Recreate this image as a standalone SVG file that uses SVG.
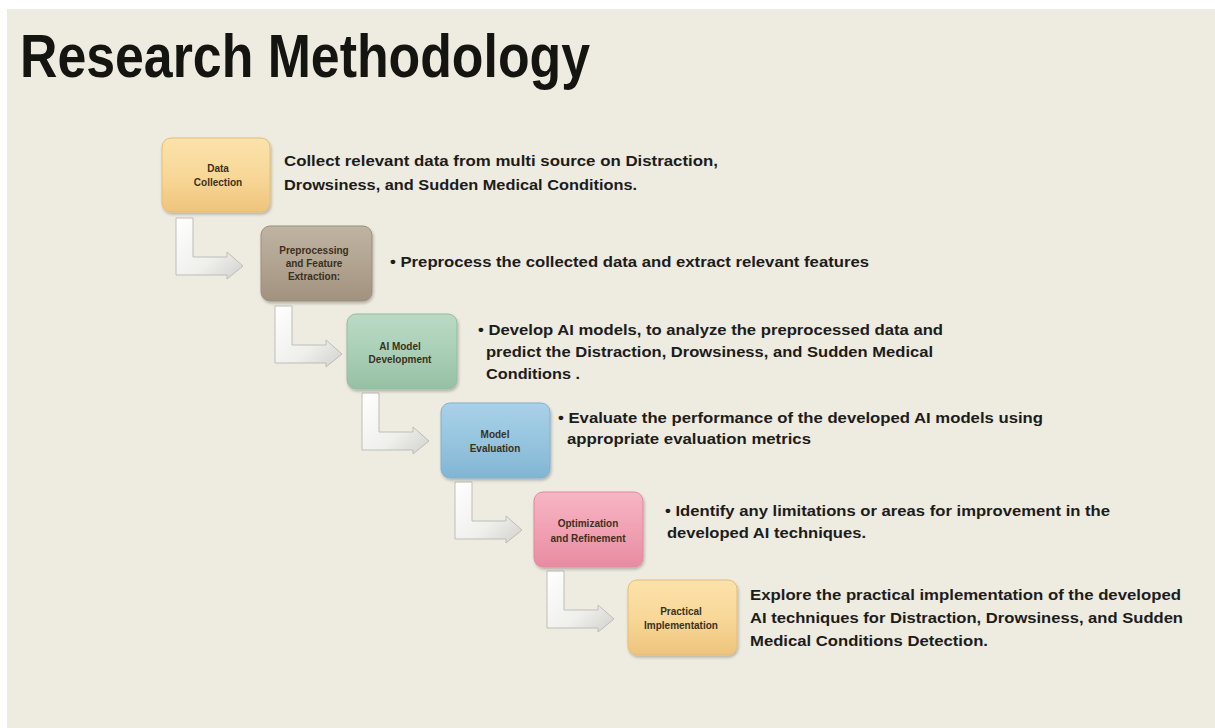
<svg xmlns="http://www.w3.org/2000/svg" width="1215" height="728" viewBox="0 0 1215 728">
  <defs>
    <style>
      .title { font-family: "Liberation Sans", Arial, sans-serif; font-size: 61px; font-weight: bold; fill: #141410; }
      .body { font-family: "Liberation Sans", Arial, sans-serif; font-size: 15.5px; fill: #1c1c1a; font-weight: bold; }
      .lbl { font-family: "Liberation Sans", Arial, sans-serif; font-size: 10px; fill: #3a3020; text-anchor: middle; font-weight: bold; }
      .box { stroke-width: 1; }
      .arrow { fill: url(#gArrow); stroke: #bdbdb8; stroke-width: 1; }
    </style>
    <linearGradient id="gY" x1="0" y1="0" x2="0" y2="1">
      <stop offset="0" stop-color="#fbe2ab"/>
      <stop offset="0.5" stop-color="#f8d898"/>
      <stop offset="1" stop-color="#eec47c"/>
    </linearGradient>
    <linearGradient id="gT" x1="0" y1="0" x2="0" y2="1">
      <stop offset="0" stop-color="#bfb3a2"/>
      <stop offset="0.5" stop-color="#b2a491"/>
      <stop offset="1" stop-color="#a19280"/>
    </linearGradient>
    <linearGradient id="gG" x1="0" y1="0" x2="0" y2="1">
      <stop offset="0" stop-color="#badac5"/>
      <stop offset="0.5" stop-color="#aacfb7"/>
      <stop offset="1" stop-color="#96c0a4"/>
    </linearGradient>
    <linearGradient id="gB" x1="0" y1="0" x2="0" y2="1">
      <stop offset="0" stop-color="#a9d1e8"/>
      <stop offset="0.5" stop-color="#96c5df"/>
      <stop offset="1" stop-color="#82b5d3"/>
    </linearGradient>
    <linearGradient id="gP" x1="0" y1="0" x2="0" y2="1">
      <stop offset="0" stop-color="#f6b6c4"/>
      <stop offset="0.5" stop-color="#f1a1b3"/>
      <stop offset="1" stop-color="#e78ca2"/>
    </linearGradient>
    <linearGradient id="gArrow" x1="0" y1="0" x2="1" y2="1">
      <stop offset="0" stop-color="#ffffff"/>
      <stop offset="0.6" stop-color="#efefec"/>
      <stop offset="1" stop-color="#d0d0cc"/>
    </linearGradient>
    <filter id="sh" x="-10%" y="-10%" width="125%" height="130%">
      <feGaussianBlur in="SourceAlpha" stdDeviation="1.5"/>
      <feOffset dx="1" dy="2" result="b"/>
      <feComponentTransfer><feFuncA type="linear" slope="0.25"/></feComponentTransfer>
      <feMerge><feMergeNode/><feMergeNode in="SourceGraphic"/></feMerge>
    </filter>
    <path id="arr" d="M0,0 L17,0 L17,39 L51,39 L51,34 L67,48 L51,61 L51,57 L0,57 Z"/>
  </defs>

  <rect x="0" y="0" width="1215" height="728" fill="#ffffff"/>
  <rect x="7" y="9" width="1208" height="719" fill="#eeebe1"/>

  <text class="title" x="20" y="77" textLength="570" lengthAdjust="spacingAndGlyphs">Research Methodology</text>

  <g id="connectors">
    <use href="#arr" class="arrow" transform="translate(176,218)"/>
    <use href="#arr" class="arrow" transform="translate(275,306)"/>
    <use href="#arr" class="arrow" transform="translate(362,393)"/>
    <use href="#arr" class="arrow" transform="translate(455,482)"/>
    <use href="#arr" class="arrow" transform="translate(547,571)"/>
  </g>

  <g id="n1">
    <rect class="box" x="162" y="138" width="108" height="74" rx="9" fill="url(#gY)" stroke="#e6bd72" filter="url(#sh)"/>
    <text class="lbl" x="218" y="172">Data</text>
    <text class="lbl" x="218" y="186">Collection</text>
    <text class="body" x="284" y="166" textLength="434" lengthAdjust="spacingAndGlyphs">Collect relevant data  from multi source on Distraction,</text>
    <text class="body" x="284" y="190" textLength="353" lengthAdjust="spacingAndGlyphs">Drowsiness, and Sudden Medical Conditions.</text>
  </g>

  <g id="n2">
    <rect class="box" x="261" y="226" width="111" height="75" rx="9" fill="url(#gT)" stroke="#9e8f7c" filter="url(#sh)"/>
    <text class="lbl" x="314" y="254">Preprocessing</text>
    <text class="lbl" x="314" y="267">and Feature</text>
    <text class="lbl" x="314" y="280">Extraction:</text>
    <text class="body" x="390" y="267" textLength="479" lengthAdjust="spacingAndGlyphs">• Preprocess the collected data and extract relevant features</text>
  </g>

  <g id="n3">
    <rect class="box" x="347" y="314" width="110" height="75" rx="9" fill="url(#gG)" stroke="#93bda1" filter="url(#sh)"/>
    <text class="lbl" x="400" y="350">AI Model</text>
    <text class="lbl" x="400" y="363">Development</text>
    <text class="body" x="478" y="335" textLength="465" lengthAdjust="spacingAndGlyphs">• Develop AI models, to analyze the preprocessed data and</text>
    <text class="body" x="486" y="357" textLength="447" lengthAdjust="spacingAndGlyphs">predict the Distraction, Drowsiness, and Sudden Medical</text>
    <text class="body" x="486" y="379" textLength="94" lengthAdjust="spacingAndGlyphs">Conditions .</text>
  </g>

  <g id="n4">
    <rect class="box" x="441" y="403" width="109" height="75" rx="9" fill="url(#gB)" stroke="#80b2cf" filter="url(#sh)"/>
    <text class="lbl" x="495" y="438">Model</text>
    <text class="lbl" x="495" y="452">Evaluation</text>
    <text class="body" x="558" y="423" textLength="485" lengthAdjust="spacingAndGlyphs">• Evaluate the performance of the developed AI models using</text>
    <text class="body" x="567" y="444" textLength="244" lengthAdjust="spacingAndGlyphs">appropriate evaluation metrics</text>
  </g>

  <g id="n5">
    <rect class="box" x="534" y="492" width="109" height="75" rx="9" fill="url(#gP)" stroke="#e388a0" filter="url(#sh)"/>
    <text class="lbl" x="588" y="527">Optimization</text>
    <text class="lbl" x="588" y="542">and Refinement</text>
    <text class="body" x="665" y="516" textLength="445" lengthAdjust="spacingAndGlyphs">• Identify any limitations or areas for improvement in the</text>
    <text class="body" x="667" y="538" textLength="199" lengthAdjust="spacingAndGlyphs">developed AI techniques.</text>
  </g>

  <g id="n6">
    <rect class="box" x="628" y="580" width="109" height="75" rx="9" fill="url(#gY)" stroke="#e6bd72" filter="url(#sh)"/>
    <text class="lbl" x="681" y="615">Practical</text>
    <text class="lbl" x="681" y="629">Implementation</text>
    <text class="body" x="750" y="600" textLength="431" lengthAdjust="spacingAndGlyphs">Explore the practical implementation of the developed</text>
    <text class="body" x="750" y="623" textLength="433" lengthAdjust="spacingAndGlyphs">AI techniques for Distraction, Drowsiness, and Sudden</text>
    <text class="body" x="750" y="646" textLength="238" lengthAdjust="spacingAndGlyphs">Medical Conditions Detection.</text>
  </g>
</svg>
